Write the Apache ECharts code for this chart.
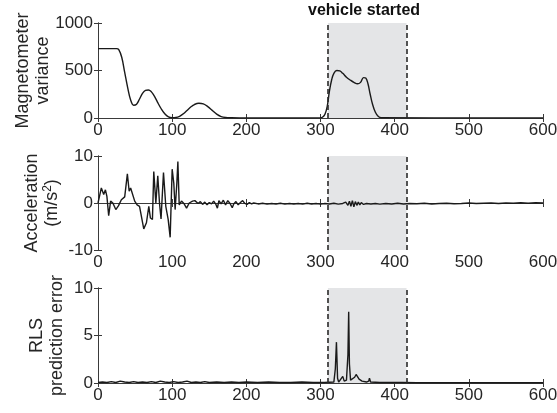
<!DOCTYPE html>
<html>
<head>
<meta charset="utf-8">
<script src="https://cdn.jsdelivr.net/npm/echarts@6/dist/echarts.min.js"></script>
<style>
  html, body { margin: 0; padding: 0; background: #fff; }
  #chart { width: 557px; height: 413px; }
</style>
</head>
<body>
<div id="chart"></div>
<script>
const xTicks = [0, 100, 200, 300, 400, 500, 600]
const vehicleStart = 310
const vehicleStop = 416

// magnetometer variance
const magX = [0, 25, 28, 32, 36, 40, 44, 48, 52, 56, 60, 64, 68, 72, 76, 80, 85, 90, 95, 100, 105, 110, 115, 120, 125, 130, 136, 142, 148, 154, 160, 166, 172, 180, 200, 250, 300, 303, 306, 309, 312, 315, 318, 322, 326, 330, 335, 340, 345, 350, 354, 358, 361, 364, 367, 370, 374, 378, 382, 600]
const magY = [730, 730, 720, 640, 480, 320, 190, 135, 145, 200, 260, 290, 295, 275, 230, 170, 100, 45, 12, 3, 5, 18, 45, 80, 115, 142, 155, 148, 120, 80, 40, 15, 5, 2, 0, 0, 2, 10, 40, 120, 280, 400, 470, 500, 495, 470, 430, 400, 375, 360, 375, 425, 420, 360, 250, 150, 60, 15, 3, 0]

// acceleration (m/s^2)
const accX = [0, 4.5, 7.7, 10, 12, 14.4, 17, 20, 24, 27.5, 31.5, 36, 39.6, 42, 44, 46.4, 49.5, 52.7, 56, 61.7, 65.3, 68.5, 70.7, 73.4, 75.2, 78, 80.6, 82.9, 85, 88.3, 91.4, 94.6, 97.3, 100, 102.2, 104, 106.3, 107.7, 109.5, 112.6, 115.8, 119.4, 123, 127.5, 130.6, 135,
  138, 141, 144, 147, 150, 153, 156, 159, 161, 163, 166, 169, 172, 175, 178, 181, 183, 186, 189, 192, 195, 198, 201, 204, 207, 210,
  216, 222, 228, 234, 240, 246, 252, 258, 264, 270, 276, 282, 288, 294, 300, 306, 312, 318, 324, 330, 334, 337, 339, 341, 343, 345, 347, 349, 351, 353, 355, 358, 362, 368, 374, 380, 388, 396, 404, 412, 420, 430, 440, 450, 460, 470, 480, 490, 500, 510, 520, 530, 540, 550, 560, 570, 580, 590, 600]
const accY = [0, 3.2, 1.8, 2.8, 1.4, -2.7, 0.4, 0, -1.4, -0.6, 0.7, 1.3, 6.2, 2.5, 3.2, 2.8, 0.4, -0.4, -0.7, -5.5, -4.2, -0.7, -3.2, -3.5, 6.7, 0, 5.8, 0, -3.4, 6.5, -0.7, -3.5, -7.3, 7.2, 4.2, -1.4, 4.2, 8.8, -0.4, 0.4, -0.1, -1.1, 0, 0.4, 0.5, -0.1,
  0.3, -0.3, 0.2, -0.4, 0.1, -0.2, 0.4, -0.3, -1.1, 0.5, -0.2, 0.6, -0.4, 0.5, -0.1, -1.0, -0.2, 0.3, -0.4, 0.1, 0.5, -0.1, -0.3, 0.1, -0.2, 0,
  -0.2, -0.05, -0.25, -0.1, -0.2, -0.05, -0.25, -0.1, -0.2, -0.1, -0.25, -0.05, -0.2, -0.1, -0.25, -0.1, -0.2, -0.05, -0.25, -0.1, 0.2, -0.5, 0.4, -0.7, 0.5, -0.8, 0.3, -0.5, 0.2, -0.4, 0.1, -0.3, -0.1, -0.2, -0.1, -0.25, -0.1, -0.2, -0.05, -0.2, -0.1, -0.15, -0.05, -0.2, -0.1, -0.05, -0.15, -0.1, 0, -0.1, -0.05, 0, -0.1, 0, -0.05, 0.05, -0.05, 0.05, 0]

// RLS prediction error
const rlsX = [0, 6, 12, 18, 24, 30, 36, 42, 48, 54, 60, 66, 72, 78, 84, 90, 96, 102, 108, 114, 120, 126, 132, 138, 144, 150, 160, 170, 180, 190, 200, 215, 230, 245, 260, 275, 290, 305, 318, 320, 321.5, 323, 324.5, 327, 330, 332, 335, 337, 338, 339, 340.5, 343, 346, 348, 350, 352, 354, 356, 358, 362, 365, 366, 367.5, 370, 380, 395, 410, 430, 460, 490, 520, 550, 580, 600]
const rlsY = [0.05, 0.1, 0.05, 0.15, 0.05, 0.2, 0.1, 0.05, 0.15, 0.05, 0.1, 0.05, 0.15, 0.05, 0.2, 0.1, 0.05, 0.15, 0.05, 0.1, 0.2, 0.05, 0.1, 0.05, 0.15, 0.05, 0.1, 0.05, 0.1, 0.05, 0.1, 0.05, 0.1, 0.05, 0.05, 0.1, 0.05, 0.05, 0.1, 1.5, 4.3, 0.5, 0.1, 0.3, 0.7, 0.2, 0.3, 3, 7.5, 2, 0.3, 0.5, 0.6, 0.9, 0.7, 0.4, 0.3, 0.2, 0.1, 0.1, 0.2, 0.5, 0.1, 0.05, 0.05, 0.05, 0.05, 0.03, 0.03, 0.03, 0.03, 0.03, 0.03, 0.03]

const zip = (xs, ys) => xs.map((x, i) => [x, ys[i]])

const font = 'Liberation Sans, Helvetica, Arial, sans-serif'
const axisColor = '#3a3a3a'
const textColor = '#262626'

const grids = [
  { left: 98, width: 445, top: 23, height: 95, outerBoundsMode: 'none' },
  { left: 98, width: 445, top: 156, height: 94, outerBoundsMode: 'none' },
  { left: 98, width: 445, top: 288, height: 95, outerBoundsMode: 'none' },
]

const yRanges = [
  { min: 0, max: 1000, interval: 500 },
  { min: -10, max: 10, interval: 10 },
  { min: 0, max: 10, interval: 5 },
]

const yNames = [
  'Magnetometer\nvariance',
  'Acceleration\n(m/s{sup|2})',
  'RLS\nprediction error',
]
const nameGaps = [45, 36, 31]

const xAxes = []
const yAxes = []
grids.forEach((g, i) => {
  const base = {
    gridIndex: i,
    type: 'value',
    min: 0,
    max: 600,
    interval: 100,
    axisLine: { lineStyle: { color: axisColor, width: 1 } },
    axisTick: { inside: true, length: 4, lineStyle: { color: axisColor } },
    splitLine: { show: false },
  }
  xAxes.push({
    ...base,
    position: 'bottom',
    axisLabel: { color: textColor, fontSize: 17, fontFamily: font, margin: 4 },
  })
  xAxes.push({ ...base, position: 'top', axisLabel: { show: false } })

  const ybase = {
    gridIndex: i,
    type: 'value',
    ...yRanges[i],
    axisLine: { show: true, lineStyle: { color: axisColor, width: 1 } },
    axisTick: { show: true, inside: true, length: 4, lineStyle: { color: axisColor } },
    splitLine: { show: false },
  }
  yAxes.push({
    ...ybase,
    position: 'left',
    name: yNames[i],
    nameLocation: 'middle',
    nameGap: nameGaps[i],
    nameMoveOverlap: false,
    nameTextStyle: {
      color: textColor, fontSize: 18, fontFamily: font, lineHeight: 20,
      rich: { sup: { fontSize: 12, verticalAlign: 'top', color: textColor, fontFamily: font, lineHeight: 20, padding: [0, 0, 8, 0] } },
    },
    axisLabel: { color: textColor, fontSize: 17, fontFamily: font, margin: 5, formatter: v => String(v) },
  })
  yAxes.push({ ...ybase, position: 'right', axisLabel: { show: false } })
})

const vehicleMarks = {
  silent: true,
  markArea: {
    itemStyle: { color: '#e4e5e7' },
    data: [[{ xAxis: vehicleStart }, { xAxis: vehicleStop }]],
  },
  markLine: {
    symbol: 'none',
    label: { show: false },
    lineStyle: { color: '#2a2a2a', type: [5, 3], width: 1.6 },
    data: [{ xAxis: vehicleStart }, { xAxis: vehicleStop }],
  },
}

const lineStyle = { color: '#1a1a1a', width: 1.4 }

const series = [
  { data: zip(magX, magY), smooth: 0.4 },
  { data: zip(accX, accY), smooth: false },
  { data: zip(rlsX, rlsY), smooth: false },
].map((s, i) => ({
  type: 'line',
  xAxisIndex: i * 2,
  yAxisIndex: i * 2,
  showSymbol: false,
  symbol: 'none',
  lineStyle,
  z: 3,
  ...s,
  ...vehicleMarks,
}))

const chart = echarts.init(document.getElementById('chart'))
chart.setOption({
  animation: false,
  grid: grids,
  xAxis: xAxes,
  yAxis: yAxes,
  series,
  graphic: [{
    type: 'text',
    left: 308,
    top: 3,
    style: { text: 'vehicle started', font: 'bold 16px ' + font, fill: '#111' },
  }],
})
</script>
</body>
</html>
